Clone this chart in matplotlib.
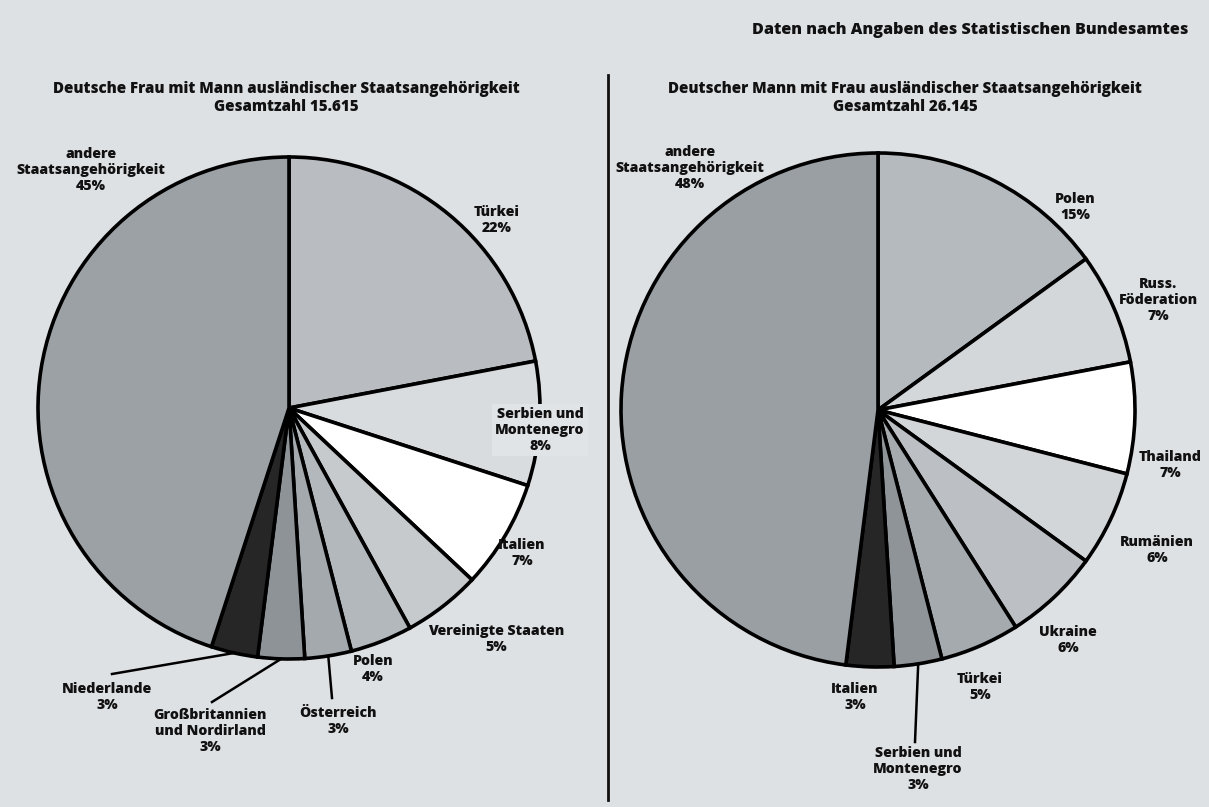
import matplotlib
matplotlib.use("Agg")
import matplotlib.pyplot as plt
import numpy as np

plt.rcParams['font.family'] = ['Open Sans', 'DejaVu Sans']

# ---- data ----
left_title = "Deutsche Frau mit Mann ausländischer Staatsangehörigkeit\nGesamtzahl 15.615"
left_labels = ["Türkei", "Serbien und\nMontenegro", "Italien", "Vereinigte Staaten",
               "Polen", "Österreich", "Großbritannien\nund Nordirland", "Niederlande",
               "andere\nStaatsangehörigkeit"]
left_values = [22, 8, 7, 5, 4, 3, 3, 3, 45]
left_colors = ["#b9bdc1", "#d9dcdf", "#ffffff", "#c6cacd", "#b3b8bc", "#a4a9ae",
               "#8e9398", "#262626", "#9ca1a6"]

right_title = "Deutscher Mann mit Frau ausländischer Staatsangehörigkeit\nGesamtzahl 26.145"
right_labels = ["Polen", "Russ.\nFöderation", "Thailand", "Rumänien", "Ukraine",
                "Türkei", "Serbien und\nMontenegro", "Italien",
                "andere\nStaatsangehörigkeit"]
right_values = [15, 7, 7, 6, 6, 5, 3, 3, 48]
right_colors = ["#b5babe", "#d4d7da", "#ffffff", "#d3d6d9", "#bcc0c4", "#a5aaaf",
                "#8f9499", "#262626", "#9a9fa4"]

source = "Daten nach Angaben des Statistischen Bundesamtes"

# ---- layout (pixel positions for text) ----
W, H = 1209, 807
BG = "#dde1e4"
FS = 10.2
FS_TITLE = 10.9

left_center, left_radius = (289, 408), 251
right_center, right_radius = (878, 410), 257

left_label_pos = [(497, 220), (540, 430), (522, 553), (496, 639), (373, 669),
                  (338, 721), (210, 731), (107, 697), (91, 170)]
# leader line end points (None = no leader)
left_leader = [None, None, None, None, None, (332, 698), (212, 702), (112, 674), None]

right_label_pos = [(1075, 207), (1158, 300), (1170, 465), (1157, 550), (1068, 640),
                   (980, 687), (918, 769), (855, 697), (690, 168)]
right_leader = [None, None, None, None, None, None, (915, 742), None, None]

fig = plt.figure(figsize=(W / 100, H / 100), dpi=100, facecolor=BG)
ax = fig.add_axes([0, 0, 1, 1])
ax.set_facecolor(BG)


def py(y):
    return H - y


def draw_pie(values, colors, labels, center, radius, label_pos, leader, title, title_x):
    cx, cy = center[0], py(center[1])
    wedges, _ = ax.pie(values, colors=colors, startangle=90, counterclock=False,
                       center=(cx, cy), radius=radius, frame=True,
                       wedgeprops=dict(edgecolor="black", linewidth=2.6))
    for w, lab, v, pos, ld in zip(wedges, labels, values, label_pos, leader):
        txt = f"{lab}\n{v}%"
        tx, ty = pos[0], py(pos[1])
        bbox = None
        if "Montenegro" in lab and ld is None:
            bbox = dict(boxstyle="square,pad=0.2", facecolor="#e1e4e7", edgecolor="none")
        ax.text(tx, ty, txt, ha="center", va="center", fontsize=FS,
                fontweight="heavy", linespacing=1.18, color="#111111", bbox=bbox, zorder=5)
        if ld is not None:
            ang = np.deg2rad((w.theta1 + w.theta2) / 2)
            sx = cx + radius * np.cos(ang)
            sy = cy + radius * np.sin(ang)
            ax.plot([sx, ld[0]], [sy, py(ld[1])], color="black", lw=1.8, zorder=4)
    ax.text(title_x, py(98), title, ha="center", va="center", fontsize=FS_TITLE,
            fontweight="heavy", linespacing=1.2, color="#111111")


draw_pie(left_values, left_colors, left_labels, left_center, left_radius,
         left_label_pos, left_leader, left_title, 286)
draw_pie(right_values, right_colors, right_labels, right_center, right_radius,
         right_label_pos, right_leader, right_title, 905)

ax.plot([608, 608], [py(75), py(800)], color="#111111", lw=2)
ax.text(1188, py(30), source, ha="right", va="center", fontsize=11.6,
        fontweight="heavy", color="#111111")

ax.set_xlim(0, W)
ax.set_ylim(0, H)
ax.set_aspect('equal')
ax.axis('off')

fig.savefig("out.png", dpi=100, facecolor=BG)
